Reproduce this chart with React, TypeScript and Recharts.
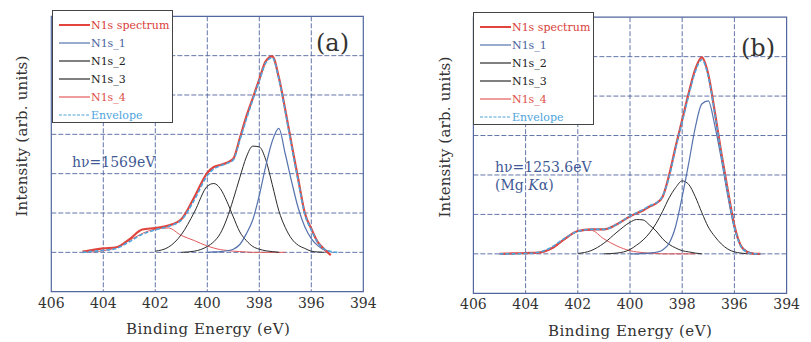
import React from 'react';
import { LineChart, Line, XAxis, YAxis, CartesianGrid, ReferenceArea, ReferenceLine } from 'recharts';

// binding energy grid (eV), one per panel
const energiesA = [404.8, 404.5, 404, 403.5, 403, 402.5, 402, 401.5, 401, 400.5, 400, 399.75, 399.5, 399.25, 399, 398.75, 398.5, 398.25, 398, 397.75, 397.5, 397.25, 397, 396.75, 396.5, 396.25, 396, 395.75, 395.5, 395.25, 395];
const energiesB = [405, 404.5, 404, 403.5, 403, 402.5, 402, 401.5, 401, 400.5, 400, 399.75, 399.5, 399.25, 399, 398.75, 398.5, 398.25, 398, 397.75, 397.5, 397.25, 397, 396.75, 396.5, 396.25, 396, 395.75, 395.5, 395.25, 395];

// (a) hv = 1569 eV
const spectrumA = [1.02, 1.05, 1.1, 1.13, 1.33, 1.58, 1.62, 1.68, 1.84, 2.4, 3.02, 3.17, 3.22, 3.28, 3.38, 3.9, 4.45, 4.92, 5.4, 5.86, 5.98, 5.45, 4.62, 3.72, 2.85, 2.0, 1.6, 1.26, 1.08, 0.93, null];
const envelopeA = [1.0, 1.02, 1.05, 1.1, 1.27, 1.46, 1.57, 1.66, 1.82, 2.33, 2.95, 3.12, 3.2, 3.26, 3.35, 3.85, 4.38, 4.88, 5.36, 5.82, 5.95, 5.42, 4.58, 3.66, 2.8, 1.97, 1.57, 1.25, 1.08, 1.02, 1.0];
const n1s1A = [null, null, null, null, null, null, null, null, null, null, 1.0, 1.01, 1.02, 1.04, 1.08, 1.2, 1.47, 1.83, 2.45, 3.2, 3.83, 4.15, 3.5, 2.78, 2.12, 1.65, 1.35, 1.17, 1.06, 1.02, null];
const n1s2A = [null, null, null, null, null, null, null, null, 1.0, 1.03, 1.15, 1.27, 1.48, 1.85, 2.35, 2.9, 3.42, 3.7, 3.68, 3.35, 2.72, 2.06, 1.63, 1.34, 1.18, 1.1, 1.03, 1.01, 1.0, null, null];
const n1s3A = [null, null, null, null, null, null, 1.03, 1.13, 1.45, 2.02, 2.68, 2.75, 2.62, 2.3, 1.9, 1.52, 1.3, 1.15, 1.08, 1.04, 1.02, 1.0, null, null, null, null, null, null, null, null, null];
const n1s4A = [null, 1.01, 1.04, 1.12, 1.3, 1.48, 1.59, 1.62, 1.43, 1.3, 1.16, 1.11, 1.07, 1.05, 1.03, 1.02, 1.01, 1.0, 1.0, 1.0, 1.0, 1.0, 1.0, null, null, null, null, null, null, null, null];

// (b) hv = 1253.6 eV (Mg Ka)
const spectrumB = [1.0, 1.01, 1.02, 1.03, 1.14, 1.38, 1.58, 1.62, 1.62, 1.75, 1.95, 2.03, 2.1, 2.2, 2.28, 2.45, 3.0, 3.72, 4.4, 5.08, 5.68, 5.98, 5.55, 4.6, 3.55, 2.6, 1.72, 1.2, 1.04, 1.0, 1.0];
const envelopeB = [1.0, 1.0, 1.01, 1.04, 1.17, 1.4, 1.57, 1.62, 1.62, 1.75, 1.96, 2.04, 2.12, 2.22, 2.29, 2.47, 2.95, 3.68, 4.35, 5.02, 5.62, 5.92, 5.5, 4.55, 3.5, 2.55, 1.68, 1.19, 1.04, 1.0, 1.0];
const n1s1B = [null, null, null, null, null, null, null, null, null, null, 1.0, 1.0, 1.01, 1.02, 1.04, 1.1, 1.27, 1.7, 2.45, 3.3, 4.2, 4.8, 4.88, 4.25, 3.4, 2.45, 1.65, 1.22, 1.06, 1.01, null];
const n1s2B = [null, null, null, null, null, null, null, null, 1.0, 1.02, 1.11, 1.22, 1.35, 1.53, 1.77, 2.08, 2.42, 2.68, 2.85, 2.76, 2.45, 2.05, 1.68, 1.44, 1.25, 1.12, 1.05, 1.02, 1.0, null, null];
const n1s3B = [null, null, null, null, null, null, 1.01, 1.08, 1.27, 1.55, 1.8, 1.87, 1.86, 1.73, 1.58, 1.38, 1.24, 1.15, 1.08, 1.05, 1.02, 1.0, null, null, null, null, null, null, null, null, null];
const n1s4B = [null, null, 1.0, 1.03, 1.13, 1.36, 1.57, 1.6, 1.38, 1.2, 1.08, 1.05, 1.03, 1.02, 1.01, 1.0, 1.0, 1.0, 1.0, 1.0, 1.0, null, null, null, null, null, null, null, null, null, null];

const xTicks = [406, 404, 402, 400, 398, 396, 394];
const yTicks = [0, 1, 2, 3, 4, 5, 6, 7];
const xGrid = [404, 402, 400, 398, 396];
const yGrid = [1, 2, 3, 4, 5, 6];

const SERIF = '"DejaVu Serif", "Liberation Serif", serif';
const GRID = '#52669f';

const series = [
  { key: 'n4', name: 'N1s_4', color: '#e25a5a', width: 1, dash: undefined },
  { key: 'n3', name: 'N1s_3', color: '#2b2b2b', width: 1, dash: undefined },
  { key: 'n2', name: 'N1s_2', color: '#2b2b2b', width: 1, dash: undefined },
  { key: 'n1', name: 'N1s_1', color: '#5572ad', width: 1.2, dash: undefined },
  { key: 'spec', name: 'N1s spectrum', color: '#e0443c', width: 2.2, dash: undefined },
  { key: 'env', name: 'Envelope', color: '#4ea4dc', width: 1.6, dash: '4 2' },
];

const legendOrder = ['spec', 'n1', 'n2', 'n3', 'n4', 'env'];
const legendTextColor: Record<string, string> = {
  spec: '#d9403a', n1: '#4a64a0', n2: '#222', n3: '#222', n4: '#e0504a', env: '#4ea4dc',
};

function build(energies: number[], s: any[], e: any[], a: any[], b: any[], c: any[], d: any[]) {
  return energies.map((x, i) => ({ e: x, spec: s[i], env: e[i], n1: a[i], n2: b[i], n3: c[i], n4: d[i] }));
}

const dataA = build(energiesA, spectrumA, envelopeA, n1s1A, n1s2A, n1s3A, n1s4A);
const dataB = build(energiesB, spectrumB, envelopeB, n1s1B, n1s2B, n1s3B, n1s4B);

function Panel({ data, left, width, margin }: any) {
  return (
    <div style={{ position: 'absolute', left, top: 0 }}>
      <LineChart width={width} height={342} data={data} margin={margin}>
        <CartesianGrid
          stroke={GRID}
          strokeDasharray="5 2"
          strokeWidth={0.9}
          horizontal={false}
          verticalValues={xGrid}
        />
        {yGrid.map(v => (
          <ReferenceLine key={v} y={v} stroke={GRID} strokeDasharray="5 2" strokeWidth={0.9} />
        ))}
        <XAxis
          dataKey="e"
          type="number"
          domain={[394, 406]}
          reversed
          ticks={xTicks}
          height={30}
          axisLine={false}
          tickLine={false}
          tickMargin={0}
          tick={{ fontSize: 14, fontFamily: SERIF, fill: '#333' }}
        />
        <YAxis type="number" domain={[0, 7]} ticks={yTicks} width={0} tick={false} axisLine={false} tickLine={false} />
        <ReferenceArea x1={406} x2={394} y1={0} y2={7} fill="none" fillOpacity={0} stroke={GRID} strokeWidth={1.2} />
        {series.map(sr => (
          <Line
            key={sr.key}
            dataKey={sr.key}
            type="monotone"
            stroke={sr.color}
            strokeWidth={sr.width}
            strokeDasharray={sr.dash}
            dot={false}
            isAnimationActive={false}
          />
        ))}
      </LineChart>
    </div>
  );
}

function LegendBox({ left, top }: { left: number; top: number }) {
  return (
    <div style={{
      position: 'absolute', left, top, width: 121, height: 113, background: '#fff',
      border: '1px solid #444', boxSizing: 'border-box', padding: '5px 0 0 6px',
    }}>
      {legendOrder.map(k => {
        const sr = series.find(x => x.key === k)!;
        return (
          <div key={k} style={{ display: 'flex', alignItems: 'center', height: 18 }}>
            <svg width={31} height={8}>
              <line x1={0} y1={4} x2={31} y2={4} stroke={sr.color} strokeWidth={k === 'spec' ? 2 : 1.2} strokeDasharray={sr.dash ? '3 1.5' : undefined} />
            </svg>
            <span style={{ fontFamily: SERIF, fontSize: 11, color: legendTextColor[k], marginLeft: 1, whiteSpace: 'nowrap' }}>{sr.name}</span>
          </div>
        );
      })}
    </div>
  );
}

const txt = (extra: React.CSSProperties): React.CSSProperties => ({
  position: 'absolute', fontFamily: SERIF, whiteSpace: 'nowrap', lineHeight: 1, ...extra,
});

export default function App() {
  return (
    <div style={{ position: 'absolute', left: 0, top: 0, width: 811, height: 342, background: '#fff', overflow: 'hidden' }}>
      <Panel data={dataA} left={0} width={405} margin={{ top: 16.3, right: 41.7, left: 51.3, bottom: 20.3 }} />
      <Panel data={dataB} left={410} width={401} margin={{ top: 17.2, right: 24.4, left: 63.4, bottom: 18.7 }} />

      <LegendBox left={52} top={10} />
      <LegendBox left={473} top={12} />

      <div style={txt({ left: 316, top: 31, fontSize: 24, color: '#333' })}>(a)</div>
      <div style={txt({ left: 741, top: 36, fontSize: 24, color: '#333' })}>(b)</div>

      <div style={txt({ left: 72, top: 155, fontSize: 14, color: '#3f5a94' })}>hν=1569eV</div>
      <div style={txt({ left: 495, top: 160, fontSize: 14, color: '#3f5a94' })}>hν=1253.6eV</div>
      <div style={txt({ left: 495, top: 178, fontSize: 14, color: '#3f5a94' })}>(Mg <i>K</i>α)</div>

      <div style={txt({ left: 126, top: 322, fontSize: 15, letterSpacing: 0.5, color: '#333' })}>Binding Energy (eV)</div>
      <div style={txt({ left: 548, top: 324, fontSize: 15, letterSpacing: 0.5, color: '#333' })}>Binding Energy (eV)</div>

      <div style={txt({ left: 22, top: 136, fontSize: 15, letterSpacing: 0.2, color: '#333', transform: 'translate(-50%, -50%) rotate(-90deg)' })}>Intensity (arb. units)</div>
      <div style={txt({ left: 445, top: 137, fontSize: 15, letterSpacing: 0.2, color: '#333', transform: 'translate(-50%, -50%) rotate(-90deg)' })}>Intensity (arb. units)</div>
    </div>
  );
}
